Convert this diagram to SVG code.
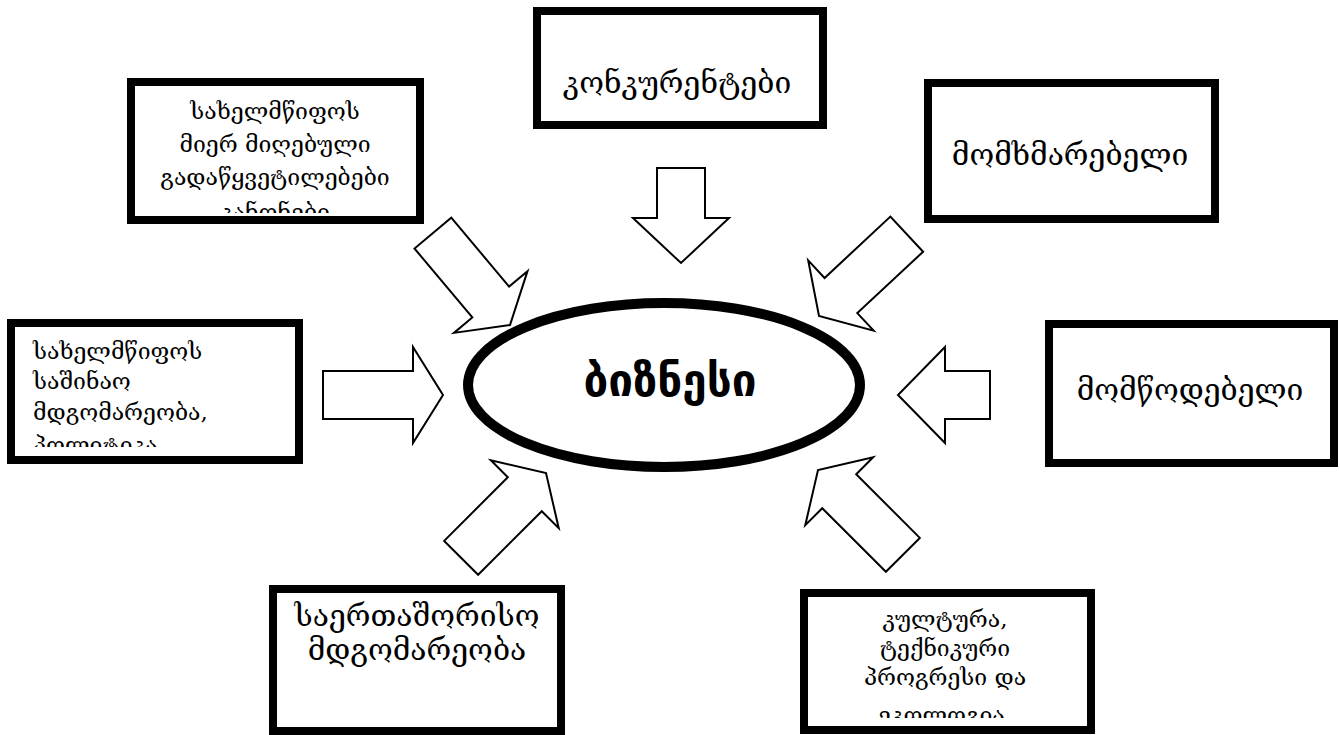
<svg xmlns="http://www.w3.org/2000/svg" width="1340" height="735" viewBox="0 0 1340 735">
  <style>
    .box { fill: #fff; stroke: #000; stroke-width: 8; }
    .arrow { fill: #fff; stroke: #000; stroke-width: 2; stroke-linejoin: miter; }
    .t { font-family: "DejaVu Serif", "DejaVu Sans", serif; fill: #000; }
    .s { font-size: 23px; }
    .l { font-size: 30px; }
    .c { text-anchor: middle; }
    .core { font-family: "DejaVu Sans", sans-serif; font-weight: bold; font-size: 44px; text-anchor: middle; }
  </style>
  <defs>
    <!-- block arrow pointing along +x, tip at origin -->
    <polygon id="blockArrow" points="-120,-24 -30,-24 -30,-48 0,0 -30,48 -30,24 -120,24"/>
    <clipPath id="clipTL"><rect x="135" y="87" width="282" height="126"/></clipPath>
    <clipPath id="clipL"><rect x="15" y="327" width="281" height="120"/></clipPath>
    <clipPath id="clipBR"><rect x="808" y="597" width="279" height="121"/></clipPath>
  </defs>
  <rect width="1340" height="735" fill="#fff"/>

  <g id="connectors">
    <use href="#blockArrow" class="arrow" transform="translate(510,325) rotate(50)"/>
    <polygon class="arrow" points="657,168 705,168 705,218 729,218 681,263 633,218 657,218"/>
    <use href="#blockArrow" class="arrow" transform="translate(819,316) rotate(137)"/>
    <use href="#blockArrow" class="arrow" transform="translate(443,395)"/>
    <polygon class="arrow" points="990,371 990,419 945,419 945,443 898,395 945,347 945,371"/>
    <use href="#blockArrow" class="arrow" transform="translate(546,473) rotate(-45)"/>
    <use href="#blockArrow" class="arrow" transform="translate(818,470) rotate(-135)"/>
  </g>

  <g id="node-business">
    <ellipse cx="664" cy="385" rx="196" ry="82" fill="#fff" stroke="#000" stroke-width="10"/>
    <text class="core" x="670" y="396">ბიზნესი</text>
  </g>

  <g id="node-state-decisions">
    <rect class="box" x="131" y="82" width="289" height="138"/>
    <g clip-path="url(#clipTL)">
      <text class="t s c" x="275" y="119">სახელმწიფოს</text>
      <text class="t s c" x="275" y="152">მიერ  მიღებული</text>
      <text class="t s c" x="275" y="185">გადაწყვეტილებები</text>
      <text class="t s c" x="275" y="220">კანონები</text>
    </g>
  </g>

  <g id="node-competitors">
    <rect class="box" x="537" y="11" width="286" height="114"/>
    <text class="t l c" x="677" y="93">კონკურენტები</text>
  </g>

  <g id="node-consumer">
    <rect class="box" x="928" y="83" width="287" height="136"/>
    <text class="t l c" x="1070" y="165">მომხმარებელი</text>
  </g>

  <g id="node-domestic">
    <rect class="box" x="11" y="323" width="288" height="137"/>
    <g clip-path="url(#clipL)">
      <text class="t s" x="33" y="359">სახელმწიფოს</text>
      <text class="t s" x="33" y="389">საშინაო</text>
      <text class="t s" x="33" y="420">მდგომარეობა,</text>
      <text class="t s" x="33" y="453">პოლიტიკა</text>
    </g>
  </g>

  <g id="node-supplier">
    <rect class="box" x="1049" y="324" width="285" height="139"/>
    <text class="t l c" x="1190" y="400">მომწოდებელი</text>
  </g>

  <g id="node-international">
    <rect class="box" x="273" y="589" width="288" height="142"/>
    <text class="t l c" x="417" y="626">საერთაშორისო</text>
    <text class="t l c" x="417" y="660">მდგომარეობა</text>
  </g>

  <g id="node-culture">
    <rect class="box" x="804" y="593" width="287" height="137"/>
    <g clip-path="url(#clipBR)">
      <text class="t s c" x="945" y="627">კულტურა,</text>
      <text class="t s c" x="945" y="656">ტექნიკური</text>
      <text class="t s c" x="945" y="685">პროგრესი  და</text>
      <text class="t s c" x="945" y="723">ეკოლოგია.</text>
    </g>
  </g>
</svg>
